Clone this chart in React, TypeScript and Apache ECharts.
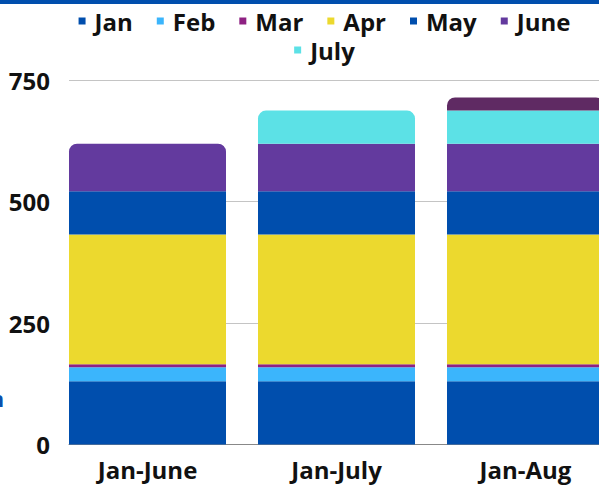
import React, { useEffect, useRef } from "react";
import * as echarts from "echarts";

const categories = ["Jan-June", "Jan-July", "Jan-Aug"];
const seriesNames = ["Jan", "Feb", "Mar", "Apr", "May", "June", "July", "Aug"];
const legendRow1 = ["Jan", "Feb", "Mar", "Apr", "May", "June"];
const legendRow2 = ["July"];
const janValues = [130, 130, 130];
const febValues = [29, 29, 29];
const marValues = [6, 6, 6];
const aprValues = [267, 267, 267];
const mayValues = [89, 89, 89];
const juneValues = [98, 98, 98];
const julyValues = [null, 68, 68];
const augValues = [null, null, 27];
const seriesColors = ["#004ead", "#3bb5fc", "#8e2182", "#ecd92e", "#004ead", "#633a9e", "#5ce1e6", "#5f2a63"];
const yMin = 0;
const yMax = 750;
const yInterval = 250;

const FONT = "Open Sans";

export default function App() {
  const ref = useRef<HTMLDivElement>(null);
  useEffect(() => {
    if (!ref.current) return;
    const chart = echarts.init(ref.current, undefined, { renderer: "svg" });
    const allValues = [janValues, febValues, marValues, aprValues, mayValues, juneValues, julyValues, augValues];
    const topIndex = categories.map((_, ci) => {
      let t = -1;
      allValues.forEach((vals, si) => {
        if (vals[ci] != null) t = si;
      });
      return t;
    });
    const series = allValues.map((vals, si) => ({
      name: seriesNames[si],
      type: "bar",
      stack: "total",
      xAxisIndex: 0,
      yAxisIndex: 0,
      barWidth: 157,
      itemStyle: { color: seriesColors[si] },
      data: vals.map((v, ci) =>
        v == null
          ? "-"
          : topIndex[ci] === si
          ? { value: v, itemStyle: { borderRadius: [8, 8, 0, 0] } }
          : v
      ),
    }));
    const legendCommon = {
      itemWidth: 7,
      itemHeight: 7,
      icon: "rect",
      itemGap: 24,
      left: "center",
      textStyle: {
        fontFamily: FONT,
        fontWeight: "bold",
        fontSize: 24,
        color: "#111",
        padding: [0, 0, 0, 4],
      },
    };
    chart.setOption({
      animation: false,
      color: seriesColors,
      legend: [
        { ...legendCommon, data: legendRow1, top: 4 },
        { ...legendCommon, data: legendRow2, top: 33 },
      ],
      graphic: [
        { type: "rect", shape: { x: 0, y: 0, width: 649, height: 4 }, style: { fill: "#004ead" } },
        {
          type: "text",
          x: 4,
          y: 399,
          style: {
            text: "n",
            fill: "#0a4fad",
            font: "bold 21px 'Open Sans'",
            align: "right",
            verticalAlign: "middle",
          },
        },
      ],
      grid: [
        { left: 53, width: 567, top: 80, bottom: 40.5 },
        { left: 69, right: 0, top: 80, bottom: 40.5 },
      ],
      xAxis: [
        {
          type: "category",
          gridIndex: 0,
          data: categories,
          axisLine: { show: false },
          axisTick: { show: false },
          axisLabel: { fontFamily: FONT, fontWeight: "bold", fontSize: 24, color: "#111", margin: 13 },
        },
        {
          type: "category",
          gridIndex: 1,
          data: categories,
          axisLine: { show: true, lineStyle: { color: "#888", width: 1 } },
          axisTick: { show: false },
          axisLabel: { show: false },
        },
      ],
      yAxis: [
        {
          type: "value",
          gridIndex: 0,
          min: yMin,
          max: yMax,
          interval: yInterval,
          show: false,
          splitLine: { show: false },
        },
        {
          type: "value",
          gridIndex: 1,
          min: yMin,
          max: yMax,
          interval: yInterval,
          axisLine: { show: false },
          axisTick: { show: false },
          axisLabel: { fontFamily: FONT, fontWeight: "bold", fontSize: 24, color: "#111", margin: 19 },
          splitLine: { show: true, lineStyle: { color: "#c4c4c4", width: 1 } },
        },
      ],
      series,
    });
    return () => chart.dispose();
  }, []);
  return (
    <div style={{ position: "absolute", left: 0, top: 0, width: 599, height: 485, overflow: "hidden", background: "#fff" }}>
      <div ref={ref} style={{ width: 649, height: 485 }} />
    </div>
  );
}
